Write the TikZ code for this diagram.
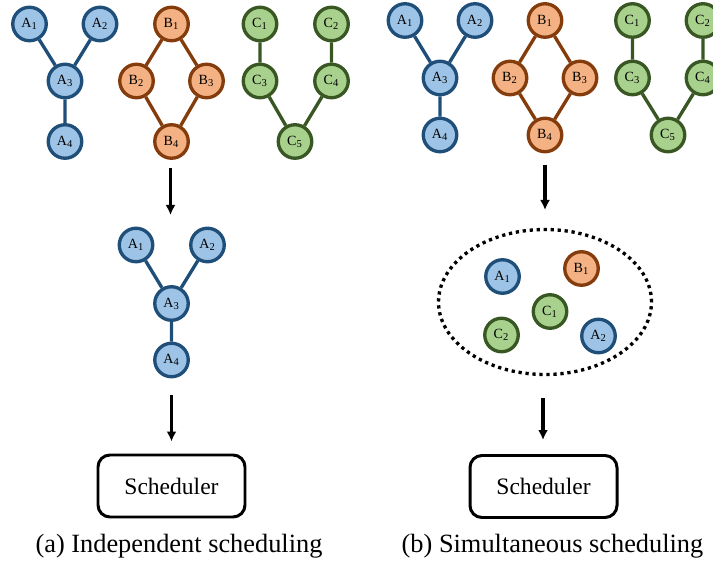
\documentclass[tikz,border=0pt]{standalone}
\usepackage{fontspec}
\setmainfont{Liberation Serif}
\usetikzlibrary{arrows.meta}
\definecolor{aFill}{RGB}{157,195,230}
\definecolor{aLine}{RGB}{31,78,121}
\definecolor{bFill}{RGB}{244,177,131}
\definecolor{bLine}{RGB}{132,60,12}
\definecolor{cFill}{RGB}{169,209,142}
\definecolor{cLine}{RGB}{56,87,35}
\begin{document}
\begin{tikzpicture}[>={Latex[length=2mm,width=2mm]},
    job/.style={circle, minimum size=6.7mm, inner sep=0pt, line width=1.9pt,
      font=\fontsize{8}{9}\selectfont},
    ajob/.style={job, draw=aLine, fill=aFill},
    bjob/.style={job, draw=bLine, fill=bFill},
    cjob/.style={job, draw=cLine, fill=cFill},
    dep/.style={line width=1.9pt},
    flow/.style={->, line width=1.9pt},
    sched/.style={draw, rounded corners=2.4mm, line width=1.7pt,
      minimum width=29.4mm, minimum height=12.4mm,
      font=\fontsize{13.4}{15}\selectfont},
    caption/.style={font=\fontsize{15}{17}\selectfont}]
    \useasboundingbox (0,0) rectangle (142.6mm,113.4mm);

    % (a) independent scheduling
    \node[ajob] (A1) at (5.9mm,108.6mm) {A\textsubscript{1}};
    \node[ajob] (A2) at (20mm,108.6mm) {A\textsubscript{2}};
    \node[ajob] (A3) at (13mm,97.2mm) {A\textsubscript{3}};
    \node[ajob] (A4) at (13mm,85.1mm) {A\textsubscript{4}};
    \draw[dep, aLine] (A1) -- (A3) (A2) -- (A3) (A3) -- (A4);

    \node[bjob] (B1) at (34.3mm,108.6mm) {B\textsubscript{1}};
    \node[bjob] (B2) at (27.3mm,97.2mm) {B\textsubscript{2}};
    \node[bjob] (B3) at (41.3mm,97.2mm) {B\textsubscript{3}};
    \node[bjob] (B4) at (34.3mm,85.1mm) {B\textsubscript{4}};
    \draw[dep, bLine] (B1) -- (B2) -- (B4) -- (B3) -- (B1);

    \node[cjob] (C1) at (52mm,108.6mm) {C\textsubscript{1}};
    \node[cjob] (C2) at (66.3mm,108.6mm) {C\textsubscript{2}};
    \node[cjob] (C3) at (52mm,97.2mm) {C\textsubscript{3}};
    \node[cjob] (C4) at (66.3mm,97.2mm) {C\textsubscript{4}};
    \node[cjob] (C5) at (59mm,85.1mm) {C\textsubscript{5}};
    \draw[dep, cLine] (C1) -- (C3) -- (C5) -- (C4) -- (C2);

    \coordinate (a-in) at (34.1mm,79.8mm);
    \coordinate (a-out) at (34.1mm,70.4mm);
    \draw[flow] (a-in) -- (a-out);

    \node[ajob] (a1) at (27.2mm,64.4mm) {A\textsubscript{1}};
    \node[ajob] (a2) at (41.5mm,64.4mm) {A\textsubscript{2}};
    \node[ajob] (a3) at (34.3mm,52.7mm) {A\textsubscript{3}};
    \node[ajob] (a4) at (34.3mm,41.4mm) {A\textsubscript{4}};
    \draw[dep, aLine] (a1) -- (a3) (a2) -- (a3) (a3) -- (a4);

    \node[sched] (schedA) at (34.3mm,16.2mm) {Scheduler};
    \coordinate (a-top) at (34.3mm,34.4mm);
    \coordinate (a-bot) at (34.3mm,25.1mm);
    \draw[flow] (a-top) -- (a-bot);
    \node[caption] (capA) at (35.8mm,4.2mm) {(a) Independent scheduling};

    % (b) simultaneous scheduling
    \node[ajob] (A1') at (81mm,109.3mm) {A\textsubscript{1}};
    \node[ajob] (A2') at (95mm,109.3mm) {A\textsubscript{2}};
    \node[ajob] (A3') at (88mm,97.8mm) {A\textsubscript{3}};
    \node[ajob] (A4') at (88mm,86.4mm) {A\textsubscript{4}};
    \draw[dep, aLine] (A1') -- (A3') (A2') -- (A3') (A3') -- (A4');

    \node[bjob] (B1') at (109mm,109.3mm) {B\textsubscript{1}};
    \node[bjob] (B2') at (102mm,97.8mm) {B\textsubscript{2}};
    \node[bjob] (B3') at (116mm,97.8mm) {B\textsubscript{3}};
    \node[bjob] (B4') at (109mm,86.4mm) {B\textsubscript{4}};
    \draw[dep, bLine] (B1') -- (B2') -- (B4') -- (B3') -- (B1');

    \node[cjob] (C1') at (126.5mm,109.3mm) {C\textsubscript{1}};
    \node[cjob] (C2') at (140.6mm,109.3mm) {C\textsubscript{2}};
    \node[cjob] (C3') at (126.5mm,97.8mm) {C\textsubscript{3}};
    \node[cjob] (C4') at (140.6mm,97.8mm) {C\textsubscript{4}};
    \node[cjob] (C5') at (133.6mm,86.4mm) {C\textsubscript{5}};
    \draw[dep, cLine] (C1') -- (C3') -- (C5') -- (C4') -- (C2');

    \coordinate (b-in) at (109mm,80.4mm);
    \coordinate (b-out) at (109mm,71.4mm);
    \draw[flow] (b-in) -- (b-out);

    \draw[line width=1.9pt, dash pattern=on 0.65mm off 0.75mm]
    (109mm,53mm) circle (21.3mm and 14.5mm);
    \node[ajob] (p1) at (100.5mm,58.1mm) {A\textsubscript{1}};
    \node[bjob] (p2) at (116.3mm,59.7mm) {B\textsubscript{1}};
    \node[cjob] (p3) at (110mm,51.1mm) {C\textsubscript{1}};
    \node[cjob] (p4) at (100.3mm,46.4mm) {C\textsubscript{2}};
    \node[ajob] (p5) at (119.7mm,46.2mm) {A\textsubscript{2}};

    \node[sched] (schedB) at (108.7mm,16.1mm) {Scheduler};
    \coordinate (b-top) at (108.6mm,33.8mm);
    \coordinate (b-bot) at (108.6mm,25.4mm);
    \draw[flow] (b-top) -- (b-bot);
    \node[caption] (capB) at (110.5mm,4.2mm) {(b) Simultaneous scheduling};
  \end{tikzpicture}
\end{document}
